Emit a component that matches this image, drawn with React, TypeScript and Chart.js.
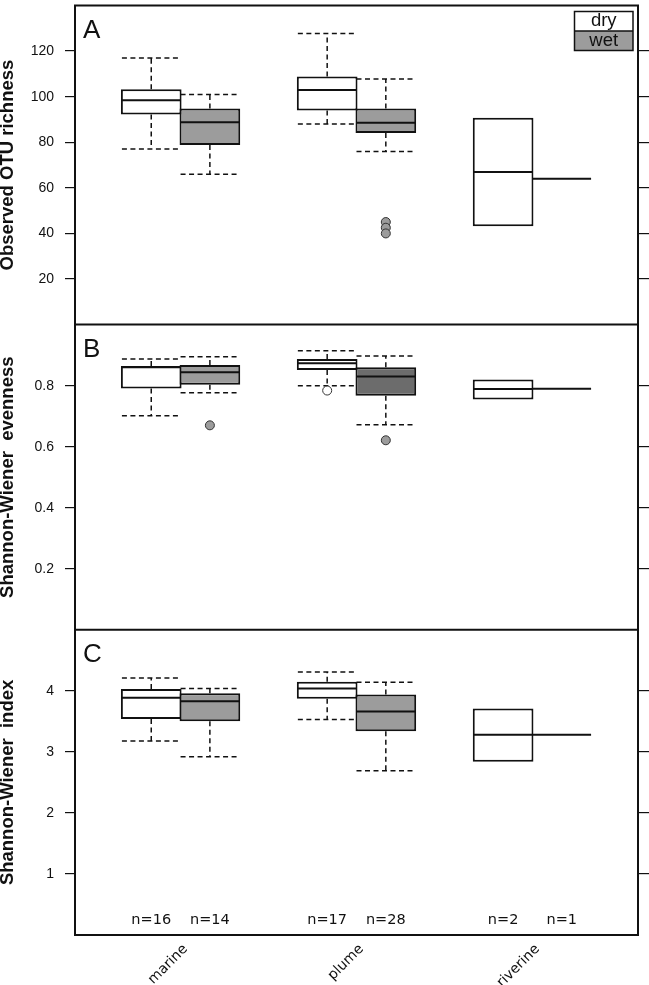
import React, { useEffect, useRef } from 'react';
import { Chart, registerables } from 'chart.js';

Chart.register(...registerables);

// ---------- data ----------
const groups = ['marine', 'plume', 'riverine'];
const seasons = ['dry', 'wet'];
// box order: marine-dry, marine-wet, plume-dry, plume-wet, riverine-dry, riverine-wet
const sampleSizes = [16, 14, 17, 28, 2, 1];

const richMin = [77, 66, 88, 76, 43.2, 64];
const richQ1 = [92.2, 78.8, 93.9, 84.1, 43.2, 64];
const richMed = [98.4, 88.8, 102.9, 88.6, 67, 64];
const richQ3 = [103.3, 94.8, 108.8, 94.8, 90.7, 64];
const richMax = [117, 100.9, 127.7, 107.8, 90.7, 64];
const richOut: number[][] = [[], [], [], [45, 42.5, 40], [], []];
const richTicks = [20, 40, 60, 80, 100, 120];

const evenMin = [0.701, 0.777, 0.8, 0.672, 0.755, 0.79];
const evenQ1 = [0.791, 0.803, 0.851, 0.767, 0.755, 0.79];
const evenMed = [0.86, 0.844, 0.873, 0.83, 0.789, 0.79];
const evenQ3 = [0.864, 0.868, 0.887, 0.86, 0.82, 0.79];
const evenMax = [0.887, 0.895, 0.914, 0.897, 0.82, 0.79];
const evenOut: number[][] = [[], [0.67], [0.784], [0.621], [], []];
const evenTicks = [0.2, 0.4, 0.6, 0.8];

const shanMin = [3.18, 2.92, 3.53, 2.69, 2.84, 3.28];
const shanQ1 = [3.54, 3.5, 3.87, 3.34, 2.84, 3.28];
const shanMed = [3.886, 3.83, 4.04, 3.66, 3.28, 3.28];
const shanQ3 = [4.03, 3.96, 4.15, 3.94, 3.71, 3.28];
const shanMax = [4.21, 4.04, 4.31, 4.14, 3.71, 3.28];
const shanOut: number[][] = [[], [], [], [], [], []];
const shanTicks = [1, 2, 3, 4];

// ---------- styles ----------
const INK = '#111111';
const DRY = '#ffffff';
const WET = '#9c9c9c';
const WET_DARK = '#6c6c6c';
const fillsA = [DRY, WET, DRY, WET, DRY, WET];
const fillsB = [DRY, WET, DRY, WET_DARK, DRY, WET];
const fillsC = [DRY, WET, DRY, WET, DRY, WET];
const outFills = [DRY, WET, DRY, WET, DRY, WET];

const boxPos = (i: number) => Math.floor(i / 2) * 3 + (i % 2) + 1;
const groupCenters = groups.map((_, g) => g * 3 + 1.5);

const panels = [
  { id: 'yA', rid: 'rA', letter: 'A', title: 'Observed OTU richness', min: 0, max: 140, ticks: richTicks,
    lo: richMin, q1: richQ1, med: richMed, q3: richQ3, hi: richMax, out: richOut, fills: fillsA,
    weightL: 3, weightR: 1, stackWeight: 321 },
  { id: 'yB', rid: 'rB', letter: 'B', title: 'Shannon-Wiener  evenness', min: 0, max: 1, ticks: evenTicks,
    lo: evenMin, q1: evenQ1, med: evenMed, q3: evenQ3, hi: evenMax, out: evenOut, fills: fillsB,
    weightL: 2, weightR: 2, stackWeight: 307 },
  { id: 'yC', rid: 'rC', letter: 'C', title: 'Shannon-Wiener  index', min: 0, max: 5, ticks: shanTicks,
    lo: shanMin, q1: shanQ1, med: shanMed, q3: shanQ3, hi: shanMax, out: shanOut, fills: fillsC,
    weightL: 1, weightR: 3, stackWeight: 307 },
];

const zeroPad = (s: any) => {
  s.paddingTop = 0; s.paddingBottom = 0; s.paddingLeft = 0; s.paddingRight = 0;
};

function buildDatasets() {
  const ds: any[] = [];
  panels.forEach((p) => {
    const bars: any[] = [];
    const barColors: string[] = [];
    const meds: any[] = [];
    const whisk: any[] = [];
    const outs: any[] = [];
    const outColors: string[] = [];
    p.q1.forEach((q1, i) => {
      const x = boxPos(i);
      const q3 = p.q3[i];
      if (q3 > q1) {
        bars.push({ x, y: [q1, q3] });
        barColors.push(p.fills[i]);
      }
      meds.push({ x: x - 0.5, y: p.med[i] }, { x: x + 0.5, y: p.med[i] }, { x: x + 0.5, y: null });
      if (p.hi[i] > q3) {
        whisk.push({ x, y: q3 }, { x, y: p.hi[i] }, { x, y: null },
          { x: x - 0.5, y: p.hi[i] }, { x: x + 0.5, y: p.hi[i] }, { x: x + 0.5, y: null });
      }
      if (p.lo[i] < q1) {
        whisk.push({ x, y: q1 }, { x, y: p.lo[i] }, { x, y: null },
          { x: x - 0.5, y: p.lo[i] }, { x: x + 0.5, y: p.lo[i] }, { x: x + 0.5, y: null });
      }
      p.out[i].forEach((v) => {
        outs.push({ x, y: v });
        outColors.push(outFills[i]);
      });
    });
    ds.push({
      type: 'line', label: p.letter + ' whiskers', data: whisk, xAxisID: 'x', yAxisID: p.id,
      borderColor: INK, borderWidth: 1.5, borderDash: [5, 3.5], pointRadius: 0, fill: false,
      tension: 0, spanGaps: false, order: 4,
    });
    ds.push({
      type: 'bar', label: p.letter + ' boxes', data: bars, xAxisID: 'x', yAxisID: p.id,
      backgroundColor: barColors, borderColor: INK, borderWidth: 2, borderSkipped: false,
      grouped: false, barPercentage: 1.035, categoryPercentage: 1, order: 3,
    });
    ds.push({
      type: 'line', label: p.letter + ' medians', data: meds, xAxisID: 'x', yAxisID: p.id,
      borderColor: INK, borderWidth: 2, pointRadius: 0, fill: false, tension: 0,
      spanGaps: false, order: 2,
    });
    ds.push({
      type: 'scatter', label: p.letter + ' outliers', data: outs, xAxisID: 'x', yAxisID: p.id,
      pointBackgroundColor: outColors, pointBorderColor: '#333', pointBorderWidth: 1,
      pointRadius: 4.5, showLine: false, order: 1,
    });
  });
  return ds;
}

function buildScales() {
  const scales: any = {
    x: {
      type: 'linear', position: 'bottom', min: -0.3, max: 9.3, offset: false,
      afterBuildTicks: (s: any) => { s.ticks = groupCenters.map((v) => ({ value: v })); },
      afterFit: (s: any) => { s.height = 50; zeroPad(s); },
      ticks: {
        autoSkip: false, minRotation: 45, maxRotation: 45, padding: -2, labelOffset: 5, color: INK,
        font: { family: '"DejaVu Sans", sans-serif', size: 14 },
        callback: (_v: any, i: number) => groups[i],
      },
      grid: { display: false, offset: false },
      border: { display: true, color: INK, width: 2 },
    },
  };
  panels.forEach((p) => {
    scales[p.id] = {
      type: 'linear', position: 'left', stack: 'panels', stackWeight: p.stackWeight, weight: p.weightL,
      min: p.min, max: p.max,
      afterBuildTicks: (s: any) => { s.ticks = p.ticks.map((v) => ({ value: v })); },
      afterFit: (s: any) => { s.width = 75; zeroPad(s); },
      ticks: {
        color: INK, padding: 11,
        font: { family: '"Liberation Sans", Arial, sans-serif', size: 14 },
        callback: (v: any) => String(v),
      },
      grid: { drawOnChartArea: false, drawTicks: true, tickLength: 10, color: INK, lineWidth: 1.2 },
      border: { display: true, color: INK, width: 2 },
      title: {
        display: true, text: p.title, color: INK, padding: 0,
        font: { family: '"Liberation Sans", Arial, sans-serif', size: 18.5, weight: 'bold', lineHeight: 0.9 },
      },
    };
    scales[p.rid] = {
      type: 'linear', position: 'right', stack: 'panels', stackWeight: p.stackWeight, weight: p.weightR,
      min: p.min, max: p.max,
      afterBuildTicks: (s: any) => { s.ticks = p.ticks.map((v) => ({ value: v })); },
      afterFit: (s: any) => { s.width = 11; zeroPad(s); },
      ticks: { display: false },
      grid: { drawOnChartArea: false, drawTicks: true, tickLength: 11, color: INK, lineWidth: 1.2 },
      border: { display: true, color: INK, width: 2 },
    };
  });
  return scales;
}

const decorPlugin = {
  id: 'panelDecor',
  afterDraw(chart: any) {
    const { ctx, chartArea, scales } = chart;
    ctx.save();
    // horizontal frame lines between / above panels
    ctx.strokeStyle = INK;
    ctx.lineWidth = 2;
    panels.forEach((p) => {
      const s = scales[p.id];
      ctx.beginPath();
      ctx.moveTo(chartArea.left - 1, s.top);
      ctx.lineTo(chartArea.right + 1, s.top);
      ctx.stroke();
    });
    // panel letters
    ctx.fillStyle = INK;
    ctx.textAlign = 'left';
    ctx.textBaseline = 'alphabetic';
    panels.forEach((p) => {
      const s = scales[p.id];
      ctx.font = '26px "Liberation Sans", Arial, sans-serif';
      ctx.fillText(p.letter, chartArea.left + 8, s.top + 32.5);
    });
    // legend (top right of panel A)
    const sA = scales[panels[0].id];
    const lw = 58.5;
    const lh = 19.5;
    const lx = chartArea.right - 5 - lw;
    const ly = sA.top + 6;
    const legendFills = [DRY, WET];
    seasons.forEach((name, k) => {
      ctx.fillStyle = legendFills[k];
      ctx.fillRect(lx, ly + k * lh, lw, lh);
      ctx.fillStyle = INK;
      ctx.font = '18.5px "Liberation Sans", Arial, sans-serif';
      ctx.textAlign = 'center';
      ctx.textBaseline = 'middle';
      ctx.fillText(name, lx + lw / 2, ly + k * lh + lh / 2);
    });
    ctx.strokeStyle = INK;
    ctx.lineWidth = 1.5;
    ctx.strokeRect(lx, ly, lw, lh * 2);
    ctx.beginPath();
    ctx.moveTo(lx, ly + lh);
    ctx.lineTo(lx + lw, ly + lh);
    ctx.stroke();
    // sample sizes in panel C
    const sC = scales[panels[2].id];
    const sx = scales.x;
    ctx.font = '14.5px "DejaVu Sans", sans-serif';
    ctx.textAlign = 'center';
    ctx.textBaseline = 'middle';
    ctx.fillStyle = INK;
    sampleSizes.forEach((n, i) => {
      ctx.fillText('n=' + n, sx.getPixelForValue(boxPos(i)), sC.getPixelForValue(0.25));
    });
    ctx.restore();
  },
};

export default function App() {
  const ref = useRef<HTMLCanvasElement>(null);
  useEffect(() => {
    if (!ref.current) return;
    const chart = new Chart(ref.current, {
      type: 'bar',
      data: { datasets: buildDatasets() },
      options: {
        responsive: false,
        animation: false,
        devicePixelRatio: 1,
        events: [],
        layout: { padding: { top: 1, left: 0, right: 0, bottom: 0 } },
        plugins: { legend: { display: false }, tooltip: { enabled: false }, title: { display: false } },
        scales: buildScales(),
      },
      plugins: [decorPlugin],
    } as any);
    return () => chart.destroy();
  }, []);
  return (
    <div style={{ position: 'fixed', left: 0, top: 0, width: 649, height: 985, background: '#ffffff' }}>
      <canvas ref={ref} width={649} height={985} style={{ display: 'block', width: 649, height: 985 }} />
    </div>
  );
}
